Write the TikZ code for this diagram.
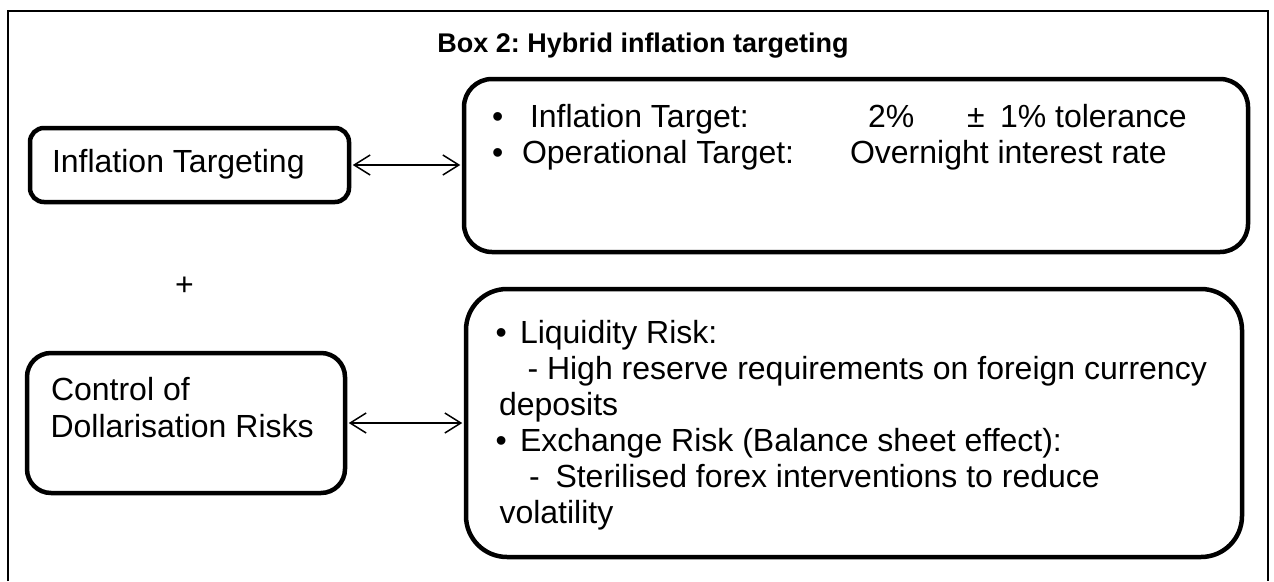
\documentclass[tikz,border=0pt]{standalone}
\usepackage{fontspec}
\setmainfont{Liberation Sans}
\usetikzlibrary{arrows.meta}
\frenchspacing
\begin{document}
\begin{tikzpicture}[x=1pt,y=-1pt,
  roundbox/.style={draw, line width=4.5pt, inner sep=0pt},
  txt/.style={inner sep=0pt, outer sep=0pt, anchor=base west, font=\fontsize{32}{36}\selectfont},
  titletext/.style={inner sep=0pt, outer sep=0pt, anchor=base, font=\fontsize{27}{32}\selectfont\bfseries},
  linkarrow/.style={{Straight Barb[length=16pt,width=20pt]}-{Straight Barb[length=16pt,width=20pt]}, line width=1.5pt, shorten <=1.5pt, shorten >=1.5pt}]
\useasboundingbox (0,0) rectangle (1274,581);
% outer frame (open at the bottom)
\coordinate (F1) at (7.5,581);
\coordinate (F2) at (7.5,11);
\coordinate (F3) at (1268,11);
\coordinate (F4) at (1268,581);
\draw[line width=2pt] (F1) -- (F2) -- (F3) -- (F4);
% title
\node[titletext] (title) at (643,52) {Box 2: Hybrid inflation targeting};
% boxes
\node[roundbox, rounded corners=14pt, minimum width=319pt, minimum height=74pt] (A) at (189.5,165) {};
\node[roundbox, rounded corners=28pt, minimum width=784pt, minimum height=173pt] (B) at (856,165.5) {};
\node[roundbox, rounded corners=24pt, minimum width=318pt, minimum height=140pt] (C) at (186,423) {};
\node[roundbox, rounded corners=41pt, minimum width=776pt, minimum height=268pt] (D) at (854,423) {};
% box A text
\node[txt] (Atext) at (52,172) {Inflation Targeting};
% box B text
\node[txt] (B1b) at (492,127) {•};
\node[txt] (B1a) at (530,127) {Inflation Target:};
\node[txt] (B1c) at (868,127) {2\%};
\node[txt] (B1d) at (967,127) {±};
\node[txt] (B1e) at (1000,127) {1\% tolerance};
\node[txt] (B2b) at (492,163) {•};
\node[txt] (B2a) at (522,163) {Operational Target:};
\node[txt] (B2c) at (850,163) {Overnight interest rate};
% plus
\node[inner sep=0pt, font=\fontsize{32}{36}\selectfont] (plus) at (184.5,286) {+};
% box C text
\node[txt] (C1) at (51,400) {Control of};
\node[txt] (C2) at (50.5,437) {Dollarisation Risks};
% box D text
\node[txt] (D1b) at (495.5,343) {•};
\node[txt] (D1) at (520,343) {Liquidity Risk:};
\node[txt] (D2) at (527.5,379) {- High reserve requirements on foreign currency};
\node[txt] (D3) at (499,415) {deposits};
\node[txt] (D4b) at (495.5,451) {•};
\node[txt] (D4) at (520,451) {Exchange Risk (Balance sheet effect):};
\node[txt] (D5a) at (529,487) {-};
\node[txt] (D5) at (555.5,487) {Sterilised forex interventions to reduce};
\node[txt] (D6) at (499.5,523) {volatility};
% connectors
\draw[linkarrow] (A.east) -- (A.east -| B.west);
\draw[linkarrow] (C.east) -- (C.east -| D.west);
\end{tikzpicture}
\end{document}
